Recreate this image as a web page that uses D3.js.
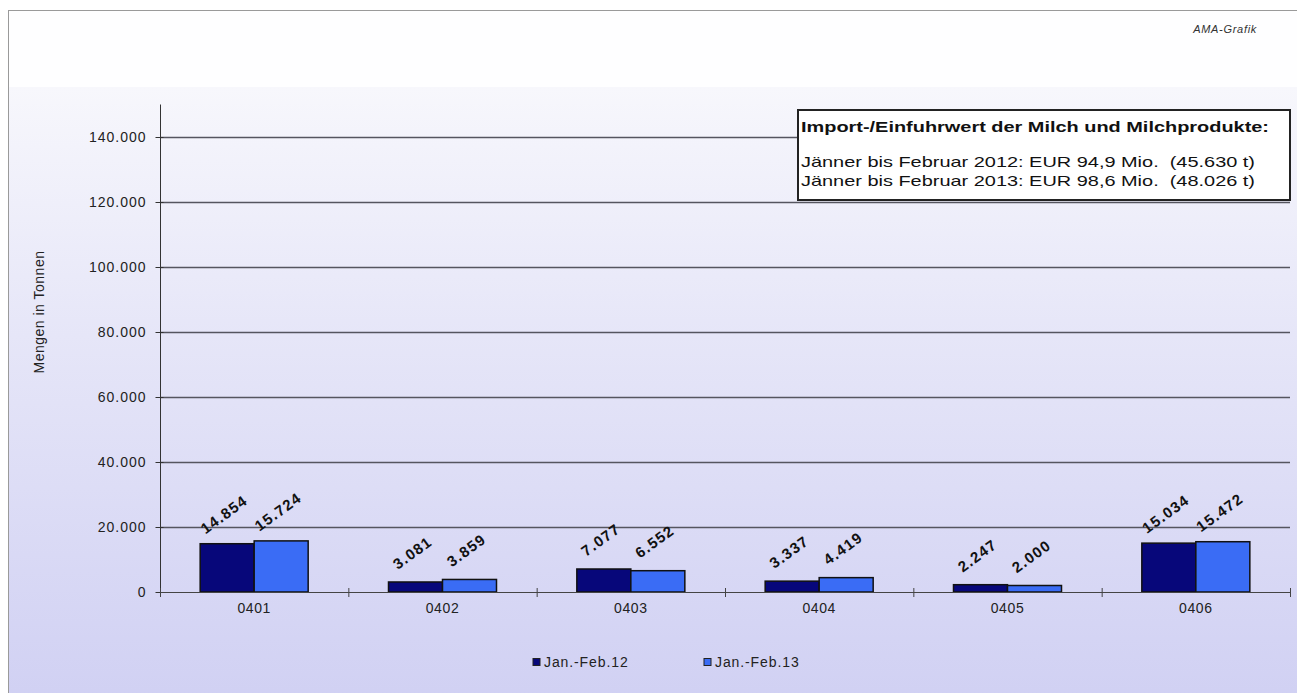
<!DOCTYPE html>
<html>
<head>
<meta charset="utf-8">
<script src="https://cdn.jsdelivr.net/npm/d3@7"></script>
<style>
  body { margin: 0; background: #ffffff; }
  svg { display: block; font-family: Arial, "Liberation Sans", sans-serif; }
</style>
</head>
<body>
<svg id="chart" width="1297" height="693"></svg>
<script>
// categories (KN codes) and series
const categories = ["0401", "0402", "0403", "0404", "0405", "0406"];
const seriesNames = ["Jan.-Feb.12", "Jan.-Feb.13"];
const values2012 = [14854, 3081, 7077, 3337, 2247, 15034];
const values2013 = [15724, 3859, 6552, 4419, 2000, 15472];
const yTicks = [0, 20000, 40000, 60000, 80000, 100000, 120000, 140000];
const boxTitle = "Import-/Einfuhrwert der Milch und Milchprodukte:";
const boxLines = [
  "Jänner bis Februar 2012: EUR 94,9 Mio.  (45.630 t)",
  "Jänner bis Februar 2013: EUR 98,6 Mio.  (48.026 t)"
];

const colors = ["#07077a", "#3a6cf5"];

const svg = d3.select("#chart");
const de = d3.formatLocale({ decimal: ",", thousands: ".", grouping: [3], currency: ["", ""] });
const fmt = de.format(",");

// background gradient
const defs = svg.append("defs");
const grad = defs.append("linearGradient").attr("id", "bg").attr("x1", 0).attr("y1", 0).attr("x2", 0).attr("y2", 1);
grad.append("stop").attr("offset", "0%").attr("stop-color", "#f7f7fc");
grad.append("stop").attr("offset", "40%").attr("stop-color", "#e6e6f8");
grad.append("stop").attr("offset", "100%").attr("stop-color", "#d0d0f3");

svg.append("rect").attr("x", 8.5).attr("y", 10.5).attr("width", 1300).attr("height", 700)
  .attr("fill", "#fefeff").attr("stroke", "#9a9a9a");
svg.append("rect").attr("x", 9).attr("y", 87).attr("width", 1290).attr("height", 620)
  .attr("fill", "url(#bg)");

svg.append("text").attr("x", 1257).attr("y", 33).attr("text-anchor", "end")
  .style("font-size", "11px").style("font-style", "italic").style("letter-spacing", "0.7px")
  .attr("fill", "#333")
  .text("AMA-Grafik");

// scales
const x = d3.scaleBand().domain(categories).range([160, 1290]).padding(0);
const groupW = 108;
const x1 = d3.scaleBand().domain(seriesNames).range([0, groupW]).padding(0);
const y = d3.scaleLinear().domain([0, 150000]).range([592, 104.5]);

// gridlines
svg.append("g").selectAll("line").data(yTicks.slice(1)).join("line")
  .attr("x1", 160).attr("x2", 1290)
  .attr("y1", d => Math.round(y(d)) + 0.5).attr("y2", d => Math.round(y(d)) + 0.5)
  .attr("stroke", "#55555f").attr("stroke-width", 1.3);

// y axis
const yAxis = svg.append("g").attr("transform", "translate(160.5,0)")
  .call(d3.axisLeft(y).tickValues(yTicks).tickFormat(fmt).tickSize(5).tickPadding(9));
yAxis.select(".domain").attr("stroke", "#333").attr("d", `M0,${y(150000)}V${y(0)}`);
yAxis.selectAll(".tick line").attr("stroke", "#333").attr("x2", -5).attr("x1", 3);
yAxis.selectAll(".tick text").style("font-size", "14px").style("letter-spacing", "1px")
  .style("font-family", "Arial, 'Liberation Sans', sans-serif")
  .attr("fill", "#222");

svg.append("text")
  .attr("transform", "translate(44,312) rotate(-90)")
  .attr("text-anchor", "middle")
  .style("font-size", "14px").style("letter-spacing", "0.5px").attr("fill", "#222")
  .text("Mengen in Tonnen");

// info box
const box = svg.append("g");
box.append("rect").attr("x", 798).attr("y", 110).attr("width", 492).attr("height", 90)
  .attr("fill", "#ffffff").attr("stroke", "#222").attr("stroke-width", 2);
box.append("text").attr("x", 801).attr("y", 132).style("font-size", "15px").style("font-weight", "bold")
  .attr("textLength", 468).attr("lengthAdjust", "spacingAndGlyphs")
  .attr("fill", "#111").text(boxTitle);
box.selectAll("text.line").data(boxLines).join("text").attr("class", "line")
  .attr("x", 801).attr("y", (d, i) => 167 + i * 19)
  .attr("textLength", 454).attr("lengthAdjust", "spacingAndGlyphs")
  .style("white-space", "pre")
  .style("font-size", "15px").attr("fill", "#111").text(d => d);

// bars
const data = categories.map((c, i) => ({ cat: c, vals: [values2012[i], values2013[i]] }));
const groups = svg.append("g").selectAll("g").data(data).join("g")
  .attr("transform", d => `translate(${x(d.cat) + (x.bandwidth() - groupW) / 2},0)`);
groups.selectAll("rect").data(d => d.vals.map((v, i) => ({ name: seriesNames[i], v, i }))).join("rect")
  .attr("x", d => x1(d.name)).attr("y", d => y(d.v))
  .attr("width", x1.bandwidth()).attr("height", d => y(0) - y(d.v))
  .attr("fill", d => colors[d.i]).attr("stroke", "#111").attr("stroke-width", 1.5);
groups.selectAll("text").data(d => d.vals.map((v, i) => ({ name: seriesNames[i], v, i }))).join("text")
  .attr("transform", d => `translate(${x1(d.name) + x1.bandwidth() / 2},${y(d.v) - 25}) rotate(-36)`)
  .attr("text-anchor", "middle")
  .style("font-size", "15px").style("font-weight", "bold").style("letter-spacing", "1.3px")
  .attr("fill", "#111")
  .text(d => fmt(d.v));

// x axis
const xAxis = svg.append("g").attr("transform", `translate(0,${y(0) + 0.5})`)
  .call(d3.axisBottom(x).tickSize(0).tickPadding(11));
xAxis.select(".domain").attr("stroke", "#444").attr("d", "M160,0H1290");
xAxis.selectAll(".tick text").style("font-size", "14px").style("letter-spacing", "0.6px")
  .style("font-family", "Arial, 'Liberation Sans', sans-serif")
  .attr("fill", "#222");
svg.append("g").selectAll("line").data(d3.range(categories.length + 1)).join("line")
  .attr("x1", i => 160 + i * x.step() + 0.5).attr("x2", i => 160 + i * x.step() + 0.5)
  .attr("y1", y(0) - 4).attr("y2", y(0) + 5).attr("stroke", "#444");

// legend
const legendX = [537, 708];
const legend = svg.append("g").selectAll("g").data(seriesNames).join("g")
  .attr("transform", (d, i) => `translate(${legendX[i]},662)`);
legend.append("rect").attr("x", -4).attr("y", -3.5).attr("width", 7).attr("height", 7)
  .attr("fill", (d, i) => colors[i]).attr("stroke", "#222").attr("stroke-width", 1);
legend.append("text").attr("x", 7).attr("y", 5).style("font-size", "14px").style("letter-spacing", "0.9px")
  .attr("fill", "#222").text(d => d);
</script>
</body>
</html>
